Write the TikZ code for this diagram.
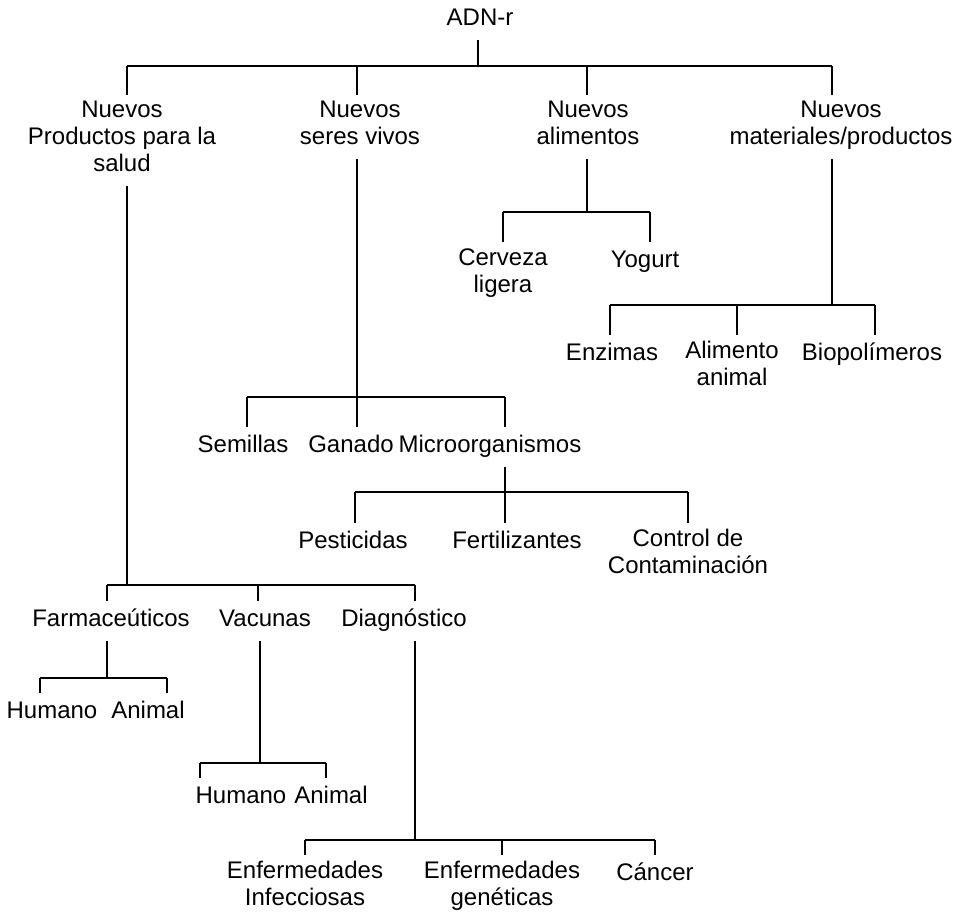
\documentclass[tikz,border=0pt]{standalone}
\usepackage{fontspec}
\setmainfont{Liberation Sans}
\usetikzlibrary{positioning}

\begin{document}
\begin{tikzpicture}[x=0.5pt,y=-0.5pt,font=\fontsize{12}{13.5}\selectfont]
\tikzstyle{box}=[align=center,inner sep=3pt,anchor=north,execute at begin node=\strut,execute at end node=\strut]
\tikzstyle{rama}=[line width=0.9pt]
\useasboundingbox (0,0) rectangle (959,923);
\node(adn)[box,anchor=center] at (480,20){ADN-r};
\node(nps)[box] at (122,95){Nuevos\\Productos para la\\salud};
\node(nsv)[box] at (360,95){Nuevos\\seres vivos};
\node(nal)[box] at (588,95){Nuevos\\alimentos};
\node(nmp)[box] at (841,95){Nuevos\\materiales/productos};
\node(cer)[box] at (503,242){Cerveza\\ligera};
\node(yog)[box] at (645,242){Yogurt};
\node(enz)[box] at (612,335){Enzimas};
\node(ali)[box] at (732,335){Alimento\\animal};
\node(bio)[box] at (872,335){Biopolímeros};
\node(sem)[box] at (243,427){Semillas};
\node(gan)[box] at (351,427){Ganado};
\node(mic)[box] at (490,427){Microorganismos};
\node(pes)[box] at (353,523){Pesticidas};
\node(fer)[box] at (517,523){Fertilizantes};
\node(con)[box] at (688,523){Control de\\Contaminación};
\node(far)[box] at (111,601){Farmaceúticos};
\node(vac)[box] at (265,601){Vacunas};
\node(dia)[box] at (404,601){Diagnóstico};
\node(hu1)[box] at (52,693){Humano};
\node(an1)[box] at (148,693){Animal};
\node(hu2)[box] at (241,778){Humano};
\node(an2)[box] at (331,778){Animal};
\node(ei)[box] at (305,855){Enfermedades\\Infecciosas};
\node(eg)[box] at (502,855){Enfermedades\\genéticas};
\node(can)[box] at (655,855){Cáncer};

\coordinate(t0) at (478,66);
\coordinate(t1) at (127,66);
\coordinate(t2) at (357,66);
\coordinate(t3) at (587,66);
\coordinate(t4) at (832,66);
\draw[rama] (adn.south -| t0) -- (t0);
\draw[rama] (t1) -- (t4);
\draw[rama] (t1) -- (t1 |- nps.north);
\draw[rama] (t2) -- (t2 |- nsv.north);
\draw[rama] (t3) -- (t3 |- nal.north);
\draw[rama] (t4) -- (t4 |- nmp.north);

\coordinate(a0) at (587,212);
\coordinate(a1) at (503,212);
\coordinate(a2) at (650,212);
\draw[rama] (nal.south -| a0) -- (a0);
\draw[rama] (a1) -- (a2);
\draw[rama] (a1) -- (a1 |- cer.north);
\draw[rama] (a2) -- (a2 |- yog.north);

\coordinate(m0) at (832,305);
\coordinate(m1) at (610,305);
\coordinate(m2) at (737,305);
\coordinate(m3) at (875,305);
\draw[rama] (nmp.south -| m0) -- (m0);
\draw[rama] (m1) -- (m3);
\draw[rama] (m1) -- (m1 |- enz.north);
\draw[rama] (m2) -- (m2 |- ali.north);
\draw[rama] (m3) -- (m3 |- bio.north);

\coordinate(s0) at (357,397);
\coordinate(s1) at (247,397);
\coordinate(s3) at (505,397);
\draw[rama] (nsv.south -| s0) -- (s0);
\draw[rama] (s1) -- (s3);
\draw[rama] (s1) -- (s1 |- sem.north);
\draw[rama] (s0) -- (s0 |- gan.north);
\draw[rama] (s3) -- (s3 |- mic.north);

\coordinate(o0) at (505,492);
\coordinate(o1) at (355,492);
\coordinate(o3) at (688,492);
\draw[rama] (mic.south -| o0) -- (o0);
\draw[rama] (o1) -- (o3);
\draw[rama] (o1) -- (o1 |- pes.north);
\draw[rama] (o0) -- (o0 |- fer.north);
\draw[rama] (o3) -- (o3 |- con.north);

\coordinate(p0) at (127,585);
\coordinate(p1) at (107,585);
\coordinate(p2) at (258,585);
\coordinate(p3) at (415,585);
\draw[rama] (nps.south -| p0) -- (p0);
\draw[rama] (p1) -- (p3);
\draw[rama] (p1) -- (p1 |- far.north);
\draw[rama] (p2) -- (p2 |- vac.north);
\draw[rama] (p3) -- (p3 |- dia.north);

\coordinate(f0) at (107,678);
\coordinate(f1) at (40,678);
\coordinate(f2) at (167,678);
\draw[rama] (far.south -| f0) -- (f0);
\draw[rama] (f1) -- (f2);
\draw[rama] (f1) -- (f1 |- hu1.north);
\draw[rama] (f2) -- (f2 |- an1.north);

\coordinate(v0) at (260,763);
\coordinate(v1) at (200,763);
\coordinate(v2) at (326,763);
\draw[rama] (vac.south -| v0) -- (v0);
\draw[rama] (v1) -- (v2);
\draw[rama] (v1) -- (v1 |- hu2.north);
\draw[rama] (v2) -- (v2 |- an2.north);

\coordinate(g0) at (415,840);
\coordinate(g1) at (305,840);
\coordinate(g2) at (502,840);
\coordinate(g3) at (655,840);
\draw[rama] (dia.south -| g0) -- (g0);
\draw[rama] (g1) -- (g3);
\draw[rama] (g1) -- (g1 |- ei.north);
\draw[rama] (g2) -- (g2 |- eg.north);
\draw[rama] (g3) -- (g3 |- can.north);
\end{tikzpicture}
\end{document}
